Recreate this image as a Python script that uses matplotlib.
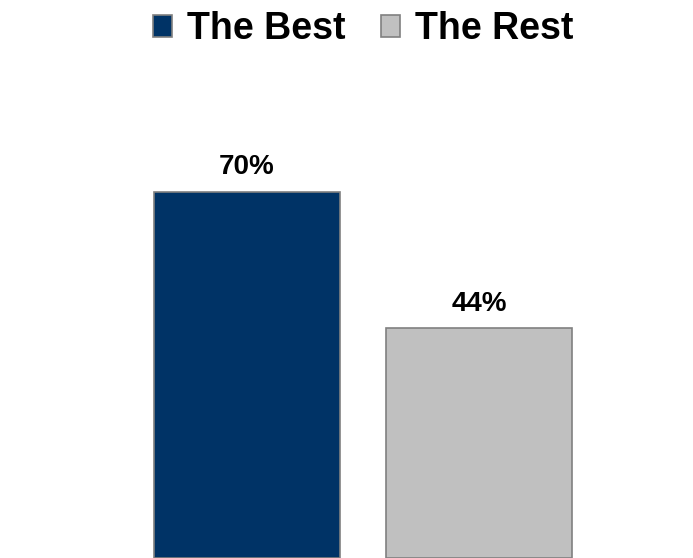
import matplotlib.pyplot as plt
from matplotlib.patches import Patch

plt.rcParams['font.family'] = ['Liberation Sans', 'DejaVu Sans']

categories = ['The Best', 'The Rest']
values = [70, 44]
colors = ['#003366', '#C0C0C0']

fig = plt.figure(figsize=(6.93, 5.58), dpi=100)
ax = fig.add_axes([0, 0, 1, 1])

bars = ax.bar(range(len(values)), values, width=0.8, color=colors,
              edgecolor='#808080', linewidth=1.2)
ax.bar_label(bars, labels=[f'{v}%' for v in values], padding=8,
             fontsize=20, fontweight='bold')

ax.set_xlim(-1.065, 1.922)
ax.set_ylim(0, 106.6)
ax.axis('off')

handles = [Patch(facecolor=c, edgecolor='#808080', linewidth=1.2) for c in colors]
fig.legend(handles, categories, loc='center', bbox_to_anchor=(0.524, 0.948),
           ncol=2, frameon=False, prop={'size': 27, 'weight': 'bold'},
           handlelength=0.52, handleheight=0.52, handletextpad=0.4,
           columnspacing=0.93)

fig.savefig('out.png', dpi=100)
